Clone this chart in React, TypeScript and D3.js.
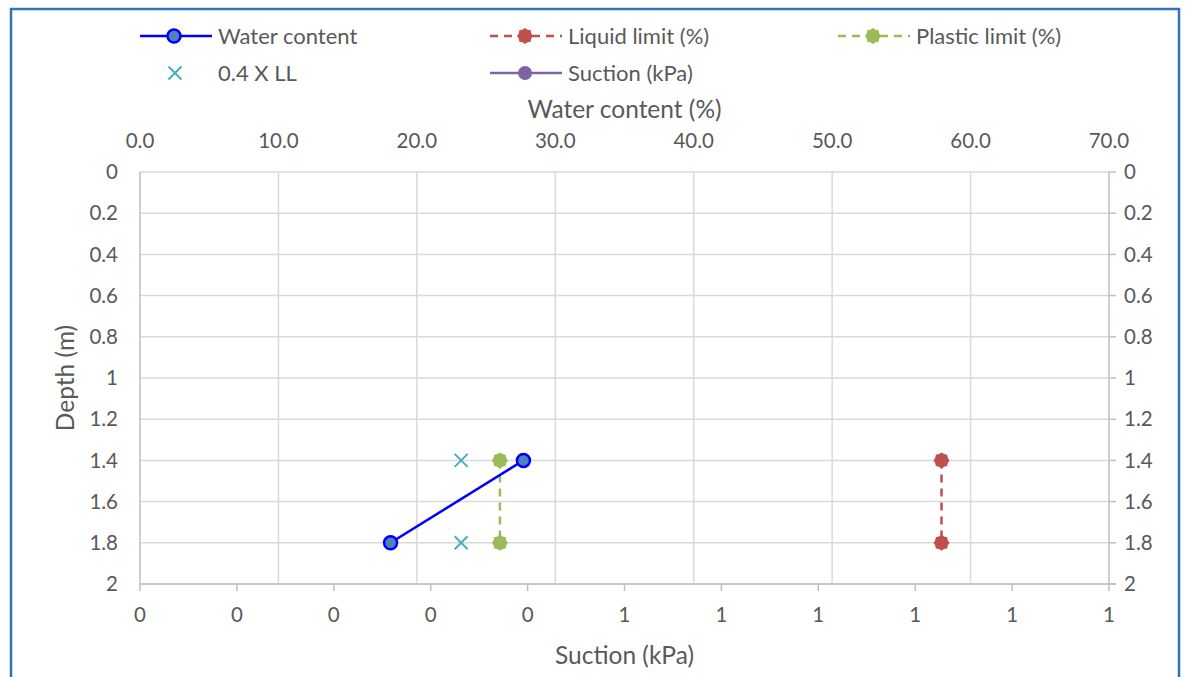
import React, { useEffect, useRef } from 'react';
import * as d3 from 'd3';

const depths = [1.4, 1.8];
const waterContent = [27.7, 18.1];
const liquidLimit = [57.9, 57.9];
const plasticLimit = [26.0, 26.0];
const fortyPctLL = [23.2, 23.2];
const suction: number[] = [];

const waterTicks = [0, 10, 20, 30, 40, 50, 60, 70];
const depthTicks = [0, 0.2, 0.4, 0.6, 0.8, 1, 1.2, 1.4, 1.6, 1.8, 2];
const suctionTicks = [0, 0.1, 0.2, 0.3, 0.4, 0.5, 0.6, 0.7, 0.8, 0.9, 1];

const W = 1187;
const H = 677;
const FONT = 'Lato, "Noto Sans", sans-serif';
const TXT = '#595959';

// jagged round marker like Excel's dotted circle
const burst = (r: number) => {
  const pts: [number, number][] = [];
  const n = 16;
  for (let i = 0; i < n; i++) {
    const a = (i / n) * Math.PI * 2;
    const rr = i % 2 === 0 ? r : r * 0.85;
    pts.push([Math.cos(a) * rr, Math.sin(a) * rr]);
  }
  return d3.line()(pts) + 'Z';
};

const App = () => {
  const svgRef = useRef<SVGSVGElement>(null);

  useEffect(() => {
    const svg = d3.select(svgRef.current);
    svg.selectAll('*').remove();

    const margin = { top: 172, right: 78, bottom: 93, left: 140 };
    const width = W - margin.left - margin.right;
    const height = H - margin.top - margin.bottom;

    // chart frame
    svg.append('rect')
      .attr('x', 11).attr('y', 9)
      .attr('width', 1168).attr('height', 700)
      .attr('fill', 'white')
      .attr('stroke', '#2E75B6')
      .attr('stroke-width', 2.5);

    const x = d3.scaleLinear().domain([0, 70]).range([0, width]);
    const xs = d3.scaleLinear().domain([0, 1]).range([0, width]);
    const y = d3.scaleLinear().domain([0, 2]).range([0, height]);

    const g = svg.append('g').attr('transform', `translate(${margin.left},${margin.top})`);

    // grid
    g.selectAll('.hgrid').data(depthTicks).enter().append('line')
      .attr('x1', 0).attr('x2', width)
      .attr('y1', d => y(d)).attr('y2', d => y(d))
      .attr('stroke', '#d9d9d9').attr('stroke-width', 1.5);
    g.selectAll('.vgrid').data(waterTicks.slice(1, -1)).enter().append('line')
      .attr('x1', d => x(d)).attr('x2', d => x(d))
      .attr('y1', 0).attr('y2', height)
      .attr('stroke', '#d9d9d9').attr('stroke-width', 1.5);

    // axes lines
    const axisColor = '#bfbfbf';
    g.append('line').attr('x1', 0).attr('x2', 0).attr('y1', 0).attr('y2', height)
      .attr('stroke', axisColor).attr('stroke-width', 1.5);
    g.append('line').attr('x1', width).attr('x2', width).attr('y1', 0).attr('y2', height)
      .attr('stroke', axisColor).attr('stroke-width', 1.5);
    g.append('line').attr('x1', 0).attr('x2', width + 7).attr('y1', height).attr('y2', height)
      .attr('stroke', axisColor).attr('stroke-width', 1.5);

    // right axis ticks
    g.selectAll('.rtick').data(depthTicks).enter().append('line')
      .attr('x1', width).attr('x2', width + 7)
      .attr('y1', d => y(d)).attr('y2', d => y(d))
      .attr('stroke', axisColor).attr('stroke-width', 1.5);
    // bottom ticks
    g.selectAll('.btick').data(suctionTicks).enter().append('line')
      .attr('x1', d => xs(d)).attr('x2', d => xs(d))
      .attr('y1', height).attr('y2', height + 7)
      .attr('stroke', axisColor).attr('stroke-width', 1.5);

    const label = (sel: any) => sel
      .style('font-family', FONT).style('font-size', '20.5px').attr('fill', TXT);

    // left tick labels
    g.selectAll('.ll').data(depthTicks).enter().append('text')
      .attr('x', -22).attr('y', d => y(d)).attr('dy', '0.35em')
      .attr('text-anchor', 'end').text(d => String(d)).call(label);
    // right tick labels
    g.selectAll('.rl').data(depthTicks).enter().append('text')
      .attr('x', width + 15).attr('y', d => y(d)).attr('dy', '0.35em')
      .attr('text-anchor', 'start').text(d => String(d)).call(label);
    // top tick labels
    g.selectAll('.tl').data(waterTicks).enter().append('text')
      .attr('x', d => x(d)).attr('y', -31).attr('dy', '0.35em')
      .attr('text-anchor', 'middle').text(d => d3.format('.1f')(d)).call(label);
    // bottom tick labels
    g.selectAll('.bl').data(suctionTicks).enter().append('text')
      .attr('x', d => xs(d)).attr('y', height + 31).attr('dy', '0.35em')
      .attr('text-anchor', 'middle').text(d => String(Math.round(d))).call(label);

    // axis titles
    const title = (sel: any) => sel
      .style('font-family', FONT).style('font-size', '24.5px').attr('fill', TXT)
      .attr('text-anchor', 'middle');
    g.append('text').attr('x', width / 2).attr('y', -63).attr('dy', '0.35em')
      .text('Water content (%)').call(title);
    g.append('text').attr('x', width / 2).attr('y', height + 71).attr('dy', '0.35em')
      .text('Suction (kPa)').call(title);
    g.append('text')
      .attr('transform', `translate(-75,${height / 2}) rotate(-90)`)
      .attr('dy', '0.35em').text('Depth (m)').call(title);

    // series
    const line = (vals: number[]) => d3.line<number>()
      .x((_, i) => x(vals[i])).y((_, i) => y(depths[i]))(depths);

    g.append('path').attr('d', line(plasticLimit)).attr('fill', 'none')
      .attr('stroke', '#9BBB59').attr('stroke-width', 2.5).attr('stroke-dasharray', '8 6');
    g.append('path').attr('d', line(liquidLimit)).attr('fill', 'none')
      .attr('stroke', '#C0504D').attr('stroke-width', 2.5).attr('stroke-dasharray', '8 6');
    g.append('path').attr('d', line(waterContent)).attr('fill', 'none')
      .attr('stroke', '#0000FF').attr('stroke-width', 2.5);

    g.selectAll('.pl').data(depths).enter().append('path')
      .attr('transform', (d, i) => `translate(${x(plasticLimit[i])},${y(d)})`)
      .attr('d', burst(8)).attr('fill', '#9BBB59');
    g.selectAll('.lqm').data(depths).enter().append('path')
      .attr('transform', (d, i) => `translate(${x(liquidLimit[i])},${y(d)})`)
      .attr('d', burst(8)).attr('fill', '#C0504D');
    g.selectAll('.fx').data(depths).enter().append('path')
      .attr('transform', (d, i) => `translate(${x(fortyPctLL[i])},${y(d)})`)
      .attr('d', 'M-6.5,-6.5L6.5,6.5M-6.5,6.5L6.5,-6.5').attr('stroke', '#4BACC6').attr('stroke-width', 2);
    g.selectAll('.wc').data(depths).enter().append('circle')
      .attr('cx', (d, i) => x(waterContent[i])).attr('cy', d => y(d)).attr('r', 6.5)
      .attr('fill', '#4F81BD').attr('stroke', '#0000FF').attr('stroke-width', 2.5);
    g.selectAll('.sc').data(suction).enter().append('circle')
      .attr('cx', d => xs(d)).attr('cy', 0).attr('r', 6).attr('fill', '#8064A2');

    // legend
    const legend = svg.append('g');
    const items = [
      { name: 'Water content', x: 140, y: 36, color: '#0000FF', dash: null, marker: 'circle', fill: '#4F81BD' },
      { name: 'Liquid limit (%)', x: 490, y: 36, color: '#C0504D', dash: '8 6', marker: 'burst', fill: '#C0504D' },
      { name: 'Plastic limit (%)', x: 838, y: 36, color: '#9BBB59', dash: '8 6', marker: 'burst', fill: '#9BBB59' },
      { name: '0.4 X LL', x: 140, y: 73, color: '#4BACC6', dash: null, marker: 'x', fill: '#4BACC6' },
      { name: 'Suction (kPa)', x: 490, y: 73, color: '#8064A2', dash: null, marker: 'dot', fill: '#8064A2' },
    ];
    items.forEach(it => {
      const lg = legend.append('g').attr('transform', `translate(${it.x},${it.y})`);
      if (it.marker !== 'x') {
        lg.append('line').attr('x1', 0).attr('x2', 72).attr('y1', 0).attr('y2', 0)
          .attr('stroke', it.color).attr('stroke-width', 2.5)
          .attr('stroke-dasharray', it.dash);
      }
      if (it.marker === 'circle') {
        lg.append('circle').attr('cx', 34).attr('r', 6.5).attr('fill', it.fill)
          .attr('stroke', it.color).attr('stroke-width', 2.5);
      } else if (it.marker === 'burst') {
        lg.append('path').attr('transform', 'translate(35,0)').attr('d', burst(8)).attr('fill', it.fill);
      } else if (it.marker === 'x') {
        lg.append('path').attr('transform', 'translate(35,0)')
          .attr('d', 'M-6.5,-6.5L6.5,6.5M-6.5,6.5L6.5,-6.5').attr('stroke', it.color).attr('stroke-width', 2);
      } else {
        lg.append('circle').attr('cx', 35).attr('r', 7).attr('fill', it.fill);
      }
      lg.append('text').attr('x', 78).attr('dy', '0.35em').text(it.name)
        .style('font-family', FONT).style('font-size', '22px').attr('fill', TXT);
    });
  }, []);

  return (
    <svg ref={svgRef} width={W} height={H}
      style={{ position: 'absolute', left: 0, top: 0, background: 'white' }} />
  );
};

export default App;
